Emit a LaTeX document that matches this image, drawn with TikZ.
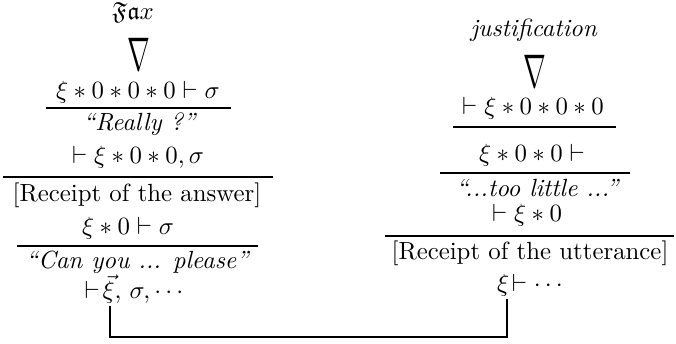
\documentclass[tikz,border=0pt]{standalone}
\usepackage{amssymb}
\usepackage{graphicx}
\usetikzlibrary{calc}
\begin{document}
\begin{tikzpicture}[x=0.403pt,y=-0.403pt,
  txt/.style={inner sep=0pt, anchor=center},
  rule/.style={line width=1pt},
  conn/.style={line width=0.9pt}]
\useasboundingbox (0,0) rectangle (676,344);
% left column
\node[txt] (fax) at (133,12) {$\mathfrak{Fa}x$};
\node[txt] (nabL) at (138.5,54) {\scalebox{1.1}[1.9]{$\nabla$}};
\node[txt] (s1) at (138,92) {$\xi*0*0*0\vdash\sigma$};
\draw[rule] (46,108) -- (231,108);
\node[txt] (r1) at (140,124) {\textit{``Really ?''}};
\node[txt] (s2) at (138,157) {$\vdash\xi*0*0,\sigma$};
\draw[rule] (3,177) -- (273,177);
\node[txt] (r2) at (137,195) {[Receipt of the answer]};
\node[txt] (s3) at (128,228) {$\xi*0\vdash\sigma$};
\draw[rule] (17,246) -- (258,246);
\node[txt] (r3) at (138,262) {\textit{``Can you ... please''}};
\node[txt] (s4) at (134,289) {$\vdash\!\vec{\xi},\,\sigma,\cdots$};
% right column
\node[txt] (just) at (534,30) {\textit{justification}};
\node[txt] (nabR) at (534.5,71) {\scalebox{1.1}[1.9]{$\nabla$}};
\node[txt] (t1) at (533,108) {$\vdash\xi*0*0*0$};
\draw[rule] (453,127) -- (616,127);
\node[txt] (t2) at (532,155) {$\xi*0*0\vdash$};
\draw[rule] (440,173) -- (630,173);
\node[txt] (t3) at (538,188) {\textit{``...too little ...''}};
\node[txt] (t4) at (527,215) {$\vdash\xi*0$};
\draw[rule] (385,236) -- (674,236);
\node[txt] (t5) at (530,253) {[Receipt of the utterance]};
\node[txt] (t6) at (530,285) {$\xi\!\vdash\cdots$};
% connector
\coordinate (footL) at ($(s4.south)+(-24,2)$);
\coordinate (footR) at ($(t6.south)+(-23,2)$);
\coordinate (bot) at (0,337);
\draw[conn] (footL) -- (footL |- bot) -| (footR);
\end{tikzpicture}
\end{document}
